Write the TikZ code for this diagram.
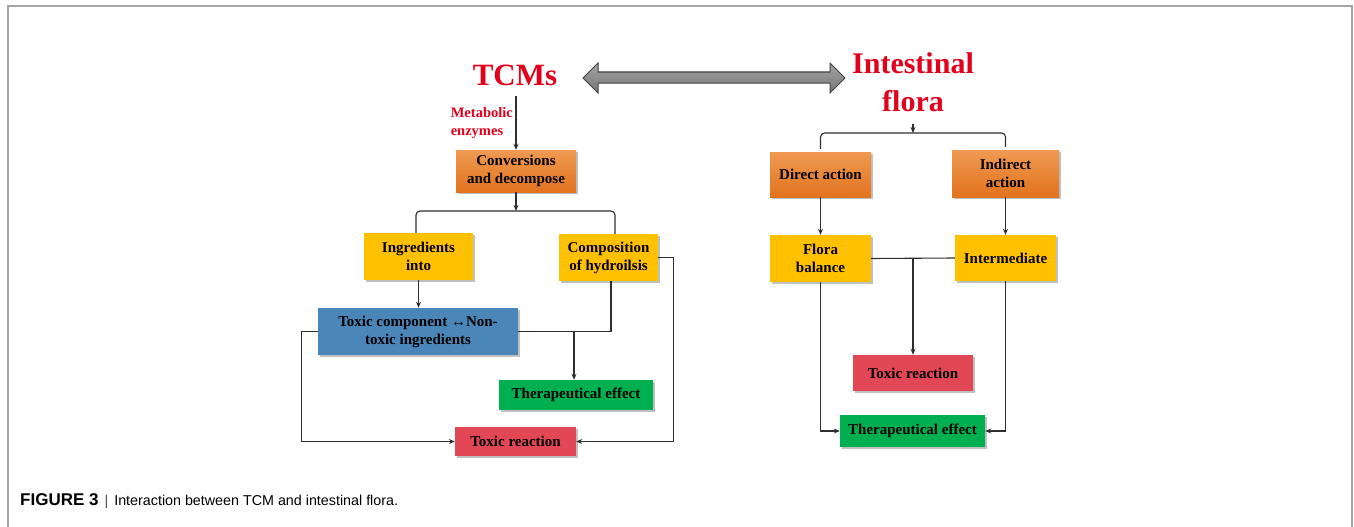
\documentclass[tikz,border=0pt]{standalone}
\usepackage{fontspec}
\setmainfont{Liberation Serif}
\newfontfamily\capfont{Liberation Sans}
\usetikzlibrary{arrows.meta,shadows}
\definecolor{orgA}{HTML}{EF9A52}
\definecolor{orgB}{HTML}{E2731E}
\definecolor{yel}{HTML}{FFC000}
\definecolor{blu}{HTML}{4A86B8}
\definecolor{grn}{HTML}{00B050}
\definecolor{rd}{HTML}{E14754}
\definecolor{ttl}{HTML}{E3001B}
\definecolor{ln}{HTML}{2E2E2E}
\definecolor{frm}{HTML}{A6A6A6}
\definecolor{darA}{HTML}{A4A4A4}
\definecolor{darB}{HTML}{767676}
\tikzset{
  box/.style={inner sep=0pt, align=center, text=black,
    font=\fontsize{15}{18}\selectfont\bfseries,
    drop shadow={shadow xshift=1.5pt, shadow yshift=-1.5pt, opacity=0.25, fill=black}},
  obox/.style={box, top color=orgA, bottom color=orgB},
  ybox/.style={box, fill=yel},
  bbox/.style={box, fill=blu},
  gbox/.style={box, fill=grn},
  rbox/.style={box, fill=rd},
  conn/.style={draw=ln, line width=1.1pt},
  arr/.style={conn, -{Stealth[length=6pt,width=5pt]}},
}
\begin{document}
\begin{tikzpicture}[x=1pt,y=-1pt]
\useasboundingbox (0,0) rectangle (1354,527);
% frame
\draw[frm, line width=1.3pt] (8,527) -- (8,6) -- (1352,6) -- (1352,527);

% titles
\node[anchor=base, inner sep=0pt, text=ttl, font=\fontsize{31}{36}\selectfont\bfseries] (tcm) at (515,85) {TCMs};
\node[inner sep=0pt, text=ttl, align=center, font=\fontsize{30}{38}\selectfont\bfseries] (intest) at (913,82) {Intestinal\\flora};
\node[anchor=east, inner sep=0pt, text=ttl, align=left, font=\fontsize{14.5}{18}\selectfont\bfseries] (meta) at (513,123) {Metabolic\\enzymes};

% double arrow
\path[draw=ln!90, line width=1pt, top color=darA, bottom color=darB]
  (583,78) -- (598,63) -- (598,72) -- (830,72) -- (830,63) -- (845,78)
  -- (830,93) -- (830,83) -- (598,83) -- (598,93) -- cycle;

% left boxes
\node[obox, minimum width=120pt, minimum height=42pt] (conv) at (516,171) {Conversions\\and decompose};
\node[ybox, minimum width=109pt, minimum height=47pt] (ingr) at (418.5,256.5) {Ingredients\\into};
\node[ybox, minimum width=99pt, minimum height=47pt] (comp) at (608.5,257.5) {Composition\\of hydroilsis};
\node[bbox, minimum width=200pt, minimum height=47pt] (blue) at (418,331.5) {Toxic component ↔Non-\\toxic ingredients};
\node[gbox, minimum width=154pt, minimum height=30pt] (ther1) at (576,395) {Therapeutical effect};
\node[rbox, minimum width=121pt, minimum height=29pt] (tox1) at (515.5,441.5) {Toxic reaction};

% right boxes
\node[obox, minimum width=101pt, minimum height=45pt] (direct) at (820.5,174.5) {Direct action};
\node[obox, minimum width=107pt, minimum height=47pt] (indirect) at (1005.5,173.5) {Indirect\\action};
\node[ybox, minimum width=101pt, minimum height=47pt] (flora) at (820.5,258.5) {Flora\\balance};
\node[ybox, minimum width=101pt, minimum height=46pt] (inter) at (1005.5,258) {Intermediate};
\node[rbox, minimum width=120pt, minimum height=36pt] (tox2) at (913,373) {Toxic reaction};
\node[gbox, minimum width=145pt, minimum height=32pt] (ther2) at (912.5,431) {Therapeutical effect};

\coordinate (brk) at (516,211);
\coordinate (brk2) at (913,133);

% left connectors
\draw[arr] ([yshift=-10pt]tcm.south -| conv.north) -- (conv.north);
\draw[arr] (conv.south) -- (brk);
\draw[conn, rounded corners=4pt] ([xshift=-2.5pt]ingr.north) -- ([xshift=-2.5pt]ingr.north |- brk) -- ([xshift=6.5pt]comp.north |- brk) -- ([xshift=6.5pt]comp.north);
\draw[arr] (ingr.south) -- (ingr.south |- blue.north);
\draw[conn] ([xshift=2.5pt]comp.south) |- (blue.east);
\draw[arr] ([xshift=-2pt]ther1.north |- blue.east) -- ([xshift=-2pt]ther1.north);
\draw[arr] (blue.west) -- ++(-16,0) |- (tox1.west);
\draw[arr] (comp.east) -- ++(15,0) |- (tox1.east);

% right connectors
\draw[arr] ([yshift=-124pt]brk2 |- 0,0) -- (brk2);
\draw[conn, rounded corners=4pt] ([yshift=3pt]direct.north) |- (brk2) -| ([yshift=3pt]indirect.north);
\draw[arr] (direct.south) -- (flora.north);
\draw[arr] (indirect.south) -- (indirect.south |- inter.north);
\draw[conn] (flora.east) -- (inter.west);
\draw[arr] (tox2.north |- flora.east) -- (tox2.north);
\draw[arr] (flora.south) |- (ther2.west);
\draw[arr] (inter.south) |- (ther2.east);

% caption
\node[anchor=base west, inner sep=0pt, font=\capfont\fontsize{14.3}{18}\selectfont] (cap) at (20,505)
  {{\fontsize{17}{18}\selectfont\textbf{FIGURE 3}}\hspace{6pt}{\color{black!70}|}\hspace{6pt}Interaction between TCM and intestinal flora.};
\end{tikzpicture}
\end{document}
